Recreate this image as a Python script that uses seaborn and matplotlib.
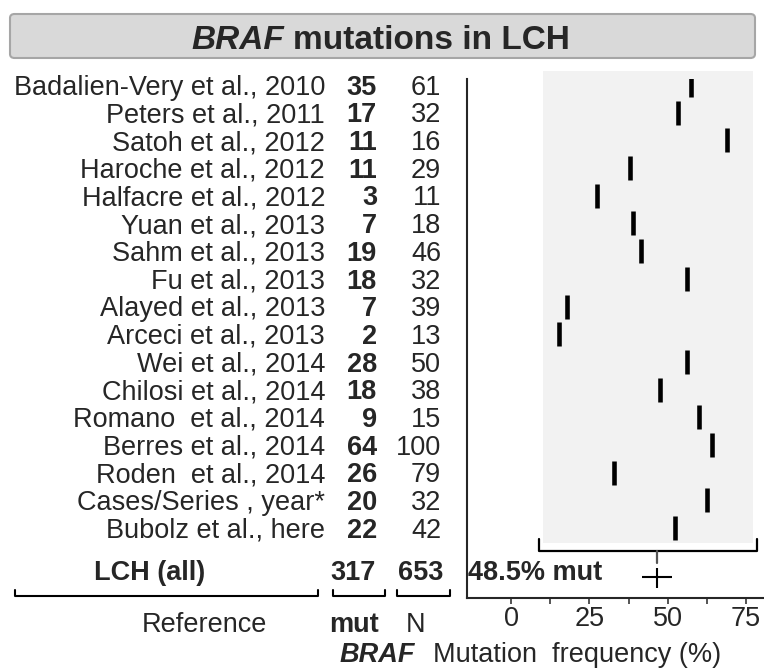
import matplotlib.pyplot as plt
import matplotlib.transforms as mtransforms
from matplotlib.patches import FancyBboxPatch, Rectangle
import numpy as np
import pandas as pd
import seaborn as sns

# studies, BRAF-mutated cases and total cases
refs = ["Badalien-Very et al., 2010", "Peters et al., 2011", "Satoh et al., 2012",
        "Haroche et al., 2012", "Halfacre et al., 2012", "Yuan et al., 2013",
        "Sahm et al., 2013", "Fu et al., 2013", "Alayed et al., 2013",
        "Arceci et al., 2013", "Wei et al., 2014", "Chilosi et al., 2014",
        "Romano  et al., 2014", "Berres et al., 2014", "Roden  et al., 2014",
        "Cases/Series , year*", "Bubolz et al., here"]
mut = [35, 17, 11, 11, 3, 7, 19, 18, 7, 2, 28, 18, 9, 64, 26, 20, 22]
n_total = [61, 32, 16, 29, 11, 18, 46, 32, 39, 13, 50, 38, 15, 100, 79, 32, 42]
xticks = [0, 25, 50, 75]
xticks_minor = [12.5, 37.5, 62.5]

W, H = 764, 669
FS = 19.5

sns.set_style("ticks")
plt.rcParams['font.family'] = ['Liberation Sans', 'DejaVu Sans']

df = pd.DataFrame({"ref": refs, "mut": mut, "n": n_total})
df["row"] = np.arange(len(df))
df["freq"] = df["mut"] / df["n"] * 100
mean_freq = df["freq"].mean()
pooled = 100 * df["mut"].sum() / df["n"].sum()

fig = plt.figure(figsize=(W / 100, H / 100), dpi=100)
ax = fig.add_axes([467 / W, 1 - 598 / H, 297 / W, 519 / H])

ROW0, ROWH = 85, 27.69


def fx(px):
    return px / W


def ry(py):
    return (py - ROW0) / ROWH


ax.set_xlim(-14.05, 80.7)
ax.set_ylim(ry(598), ry(79))

# grey panel behind the marks
ax.add_patch(Rectangle((10.2, ry(71)), 77.2 - 10.2, ry(543) - ry(71),
                       facecolor='#f2f2f2', edgecolor='none', clip_on=False, zorder=0))

sns.scatterplot(data=df, x="freq", y="row", marker="|", s=290, linewidth=3.3,
                color="black", ax=ax, legend=False, zorder=3)

# bracket + mean marker
ax.plot([9, 9, 78.5, 78.5], [ry(539), ry(551), ry(551), ry(539)], color='black', lw=1.6,
        clip_on=False)
ax.plot([mean_freq, mean_freq], [ry(551), ry(563)], color='#555555', lw=1.6, clip_on=False)
ax.plot([mean_freq], [ry(577)], marker='_', ms=21.6, mew=1.5, color='black', clip_on=False)
ax.plot([mean_freq], [ry(577.5)], marker='|', ms=15, mew=1.5, color='black', clip_on=False)

sns.despine(ax=ax)
ax.spines['left'].set_linewidth(1.5)
ax.spines['bottom'].set_linewidth(1.5)
ax.set_xticks(xticks)
ax.set_xticks(xticks_minor, minor=True)
ax.set_yticks([])
ax.tick_params(axis='x', which='both', length=4.5, width=1.1, pad=1.5, labelsize=FS)
ax.set_xlabel("")
ax.set_ylabel("")

tr = mtransforms.blended_transform_factory(fig.transFigure, ax.transData)
off = 0.35

for i, r in df.iterrows():
    ax.text(fx(325), r["row"] + off, r["ref"], ha='right', va='baseline', transform=tr,
            fontsize=FS)
    ax.text(fx(377), r["row"] + off, str(r["mut"]), ha='right', va='baseline', transform=tr,
            fontsize=FS, fontweight='bold')
    ax.text(fx(441), r["row"] + off, str(r["n"]), ha='right', va='baseline', transform=tr,
            fontsize=FS)

# summary row
ys = ry(570) + off
ax.text(fx(150), ys, "LCH (all)", ha='center', va='baseline', transform=tr, fontsize=FS,
        fontweight='bold')
ax.text(fx(376), ys, str(df["mut"].sum()), ha='right', va='baseline', transform=tr,
        fontsize=FS, fontweight='bold')
ax.text(fx(443), ys, str(df["n"].sum()), ha='right', va='baseline', transform=tr,
        fontsize=FS, fontweight='bold')
ax.text(fx(468), ys, f"{pooled:.1f}% mut", ha='left', va='baseline', transform=tr,
        fontsize=FS, fontweight='bold')

# column brackets
for x0, x1 in [(15, 318), (333, 385), (397, 450)]:
    ax.plot([fx(x0), fx(x0), fx(x1), fx(x1)], [ry(590), ry(596), ry(596), ry(590)],
            transform=tr, color='black', lw=1.5, clip_on=False)

yl = ry(622) + off
ax.text(fx(204), yl, "Reference", ha='center', va='baseline', transform=tr, fontsize=FS)
ax.text(fx(354), yl, "mut", ha='center', va='baseline', transform=tr, fontsize=FS,
        fontweight='bold')
ax.text(fx(416), yl, "N", ha='center', va='baseline', transform=tr, fontsize=FS)

yb = ry(652) + off
ax.text(fx(415), yb, "BRAF", ha='right', va='baseline', transform=tr, fontsize=FS,
        fontweight='bold', fontstyle='italic')
ax.text(fx(433), yb, "Mutation  frequency (%)", ha='left', va='baseline', transform=tr,
        fontsize=FS)

# title box
fig.patches.append(FancyBboxPatch((fx(10), 1 - 58 / H), 745 / W, 44 / H,
                                  boxstyle="round,pad=0,rounding_size=0.006",
                                  transform=fig.transFigure, facecolor='#d9d9d9',
                                  edgecolor='#a6a6a6', lw=1.5, zorder=0))
fig.text(fx(284), 1 - 49 / H, "BRAF", ha='right', va='baseline', fontsize=24,
         fontweight='bold', fontstyle='italic')
fig.text(fx(293), 1 - 49 / H, "mutations in LCH", ha='left', va='baseline', fontsize=24,
         fontweight='bold')

fig.savefig("out.png", dpi=100)
